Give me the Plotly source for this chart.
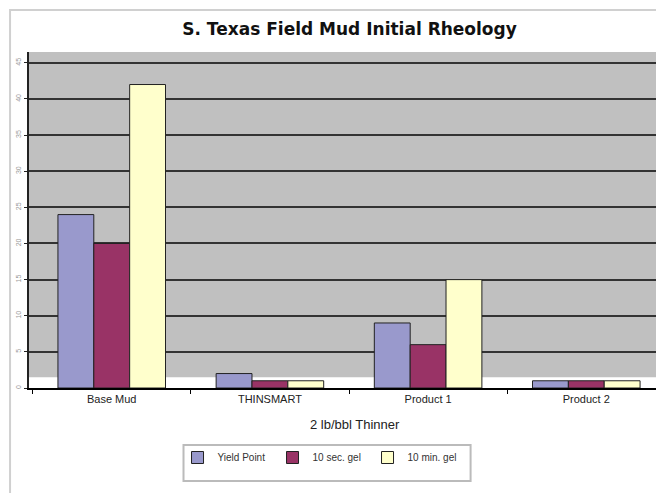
import plotly.graph_objects as go

categories = ["Base Mud", "THINSMART", "Product 1", "Product 2"]
yield_point = [24, 2, 9, 1]
gel_10sec = [20, 1, 6, 1]
gel_10min = [42, 1, 15, 1]
series_names = ["Yield Point", "10 sec. gel", "10 min. gel"]
series_colors = ["#9999CC", "#993366", "#FFFFCC"]
y_ticks = [0, 5, 10, 15, 20, 25, 30, 35, 40, 45]

# page body has an 8px margin; work in screen coordinates and shift
OFF = 8
W, H = 664 - OFF, 493 - OFF
PL, PR, PT, PB = 27, 657, 52, 388          # plot area in screen coordinates
L, R, T, B = PL - OFF, (W + OFF) - PR, PT - OFF, (H + OFF) - PB
pw, ph = PR - PL, PB - PT

def px(x):
    return (x - PL) / pw

def py(y):
    return (PB - y) / ph

fig = go.Figure()
for name, vals, col in zip(series_names, [yield_point, gel_10sec, gel_10min], series_colors):
    fig.add_trace(go.Bar(x=categories, y=vals, name=name,
                         marker=dict(color=col, line=dict(color="#222222", width=1))))

fig.update_layout(
    width=W, height=H,
    margin=dict(l=L, r=R, t=T, b=B),
    paper_bgcolor="white",
    plot_bgcolor="#C0C0C0",
    barmode="group",
    bargap=0.32, bargroupgap=0,
    font=dict(family="Liberation Sans, Arial, sans-serif", color="black"),
    title=dict(text="<b>S. Texas Field Mud Initial Rheology</b>", x=px(355), xanchor="center",
               y=1 - (29 - OFF) / H, yanchor="middle",
               font=dict(family="DejaVu Sans, sans-serif", size=17, color="#111111")),
    showlegend=True,
    legend=dict(orientation="h", x=px(176), y=py(443), xanchor="left", yanchor="top",
                bgcolor="rgba(0,0,0,0)", borderwidth=0, font=dict(size=10, color="#333333"),
                entrywidth=50, itemwidth=30, traceorder="normal"),
    xaxis=dict(range=[-0.523, 3.447], showgrid=False, showline=True, linecolor="black", linewidth=2,
               ticks="outside", tickson="boundaries", ticklen=4, tickcolor="black",
               tickfont=dict(size=11, color="#222222")),
    yaxis=dict(range=[0, 46.5], tickvals=y_ticks, showgrid=True, gridcolor="#333333", gridwidth=2,
               showline=True, linecolor="#222222", linewidth=2, zeroline=False,
               ticks="outside", ticklen=3, tickcolor="#222222",
               tickfont=dict(size=7, color="#999999"), tickangle=-90),
    annotations=[
        dict(text="2 lb/bbl Thinner", xref="paper", yref="paper", x=px(354), y=py(424),
             xanchor="center", yanchor="middle", showarrow=False,
             font=dict(size=13, color="#222222")),
    ],
    shapes=[
        dict(type="rect", xref="paper", yref="paper", x0=px(8), x1=px(680), y0=py(510), y1=py(10),
             line=dict(color="#D0D0D0", width=2), fillcolor="rgba(0,0,0,0)", layer="below"),
        dict(type="rect", xref="paper", yref="y", x0=0, x1=1, y0=0, y1=1.5,
             line=dict(width=0), fillcolor="white", layer="below"),
        dict(type="rect", xref="paper", yref="paper", x0=px(182), x1=px(470), y0=py(481), y1=py(445),
             line=dict(color="#BBBBBB", width=2), fillcolor="rgba(0,0,0,0)"),
    ],
)

fig.write_html("out.html")
